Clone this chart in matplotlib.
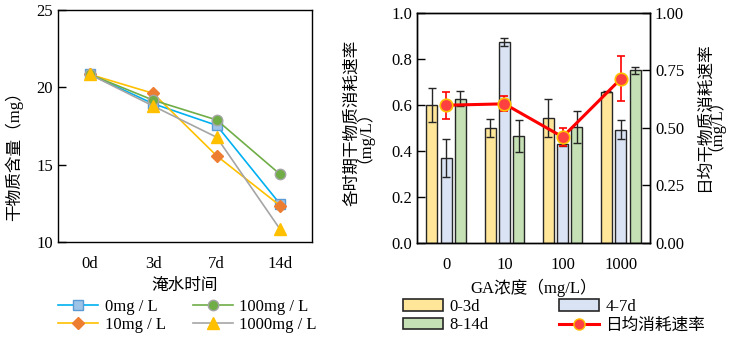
import matplotlib
matplotlib.use("Agg")
from matplotlib import pyplot as plt
from matplotlib.patches import Patch
from matplotlib.lines import Line2D
import numpy as np

plt.rcParams['font.family'] = ['Liberation Serif', 'Noto Sans CJK SC']
plt.rcParams['axes.unicode_minus'] = False

# ---- donnees : panneau gauche (masse seche)
days = ["0d", "3d", "7d", "14d"]
series_names = ["0mg / L", "10mg / L", "100mg / L", "1000mg / L"]
mass_0 = [20.85, 18.95, 17.55, 12.45]
mass_10 = [20.85, 19.62, 15.58, 12.35]
mass_100 = [20.85, 19.18, 17.90, 14.38]
mass_1000 = [20.85, 18.80, 16.78, 10.82]

# ---- donnees : panneau droit (taux de consommation)
ga_conc = ["0", "10", "100", "1000"]
rate_03 = [0.600, 0.501, 0.544, 0.658]
err_03 = [0.072, 0.038, 0.083, 0.003]
rate_47 = [0.369, 0.874, 0.432, 0.493]
err_47 = [0.082, 0.016, 0.012, 0.040]
rate_814 = [0.628, 0.464, 0.503, 0.750]
err_814 = [0.033, 0.070, 0.069, 0.015]
daily_rate = [0.599, 0.605, 0.461, 0.714]
daily_err = [0.058, 0.032, 0.041, 0.097]

fig = plt.figure(figsize=(7.36, 3.40), dpi=100)
fs = 12

### panneau gauche
ax1 = fig.add_axes([0.0788, 0.288, 0.345, 0.682])
x = np.arange(len(days))
styles = [
    (mass_0, '#00B0F0', 's', '#9DC3E6', '#5B9BD5', 7),
    (mass_10, '#FFC000', 'D', '#ED7D31', '#ED7D31', 6),
    (mass_100, '#70AD47', 'o', '#70AD47', '#A5A5A5', 7.5),
    (mass_1000, '#A5A5A5', '^', '#FFC000', '#FFC000', 8),
]
for (vals, lc, mk, mfc, mec, ms), name in zip(styles, series_names):
    ax1.plot(x, vals, color=lc, lw=1.2, marker=mk, markersize=ms,
             markerfacecolor=mfc, markeredgecolor=mec, markeredgewidth=1.0, label=name)
ax1.set_xlim(-0.5, 3.5)
ax1.set_ylim(10, 25)
ax1.set_yticks([10, 15, 20, 25])
ax1.set_xticks(x)
ax1.set_xticklabels(days)
ax1.tick_params(axis='y', direction='in', length=6, labelsize=fs, width=1)
ax1.tick_params(axis='x', length=0, labelsize=fs, pad=10)
for s in ax1.spines.values():
    s.set_linewidth(1.0)
ax1.text(-0.173, 0.388, "干物质含量（mg）", transform=ax1.transAxes, rotation=90,
         ha='center', va='center', fontsize=fs)
ax1.set_xlabel("淹水时间", fontsize=fs, labelpad=4)
ax1.legend(loc='upper center', bbox_to_anchor=(0.51, -0.18), ncol=2, frameon=False,
           fontsize=fs, handlelength=2.4, labelspacing=0.15, columnspacing=1.6,
           handletextpad=0.4)

### panneau droit
ax2 = fig.add_axes([0.5666, 0.2853, 0.3166, 0.6765])
xg = np.arange(len(ga_conc))
w = 0.19
off = 0.245
ekw = dict(ecolor='#262626', elinewidth=1.0, capsize=3, capthick=1.0)
ax2.bar(xg - off, rate_03, w, yerr=err_03, color='#FFE699', edgecolor='#262626', lw=1.0, error_kw=ekw)
ax2.bar(xg, rate_47, w, yerr=err_47, color='#DAE3F3', edgecolor='#262626', lw=1.0, error_kw=ekw)
ax2.bar(xg + off, rate_814, w, yerr=err_814, color='#C5E0B4', edgecolor='#262626', lw=1.0, error_kw=ekw)
ax2.set_xlim(-0.5, 3.5)
ax2.set_ylim(0, 1.0)
ax2.set_yticks(np.arange(0, 1.01, 0.2))
ax2.set_yticklabels(["%.1f" % v for v in np.arange(0, 1.01, 0.2)])
ax2.set_xticks(xg)
ax2.set_xticklabels(ga_conc)
ax2.tick_params(axis='y', direction='in', length=6, labelsize=fs, width=1)
ax2.tick_params(axis='x', length=0, labelsize=fs, pad=10)
ax2.set_xlabel("GA浓度（mg/L）", fontsize=fs, labelpad=4)
ax2.text(-0.279, 0.522, "各时期干物质消耗速率", transform=ax2.transAxes, rotation=90,
         ha='center', va='center', fontsize=fs)
ax2.text(-0.266, 0.50, "（mg/L）", transform=ax2.transAxes, rotation=90,
         ha='center', va='center', fontsize=fs)

ax3 = ax2.twinx()
ax3.errorbar(xg, daily_rate, yerr=daily_err, color='#FF0000', lw=2.2, marker='o',
             markersize=9, markerfacecolor='#FF4040', markeredgecolor='#FFC000',
             markeredgewidth=1.2, ecolor='#FF0000', elinewidth=1.2, capsize=3, capthick=1.2)
ax3.set_ylim(0, 1.0)
ax3.set_yticks([0, 0.25, 0.5, 0.75, 1.0])
ax3.set_yticklabels(["0.00", "0.25", "0.50", "0.75", "1.00"])
ax3.tick_params(axis='y', direction='in', length=6, labelsize=fs, width=1)
ax3.text(1.236, 0.548, "日均干物质消耗速率", transform=ax3.transAxes, rotation=90,
         ha='center', va='center', fontsize=fs)
ax3.text(1.241, 0.552, "（mg/L）", transform=ax3.transAxes, rotation=90,
         ha='center', va='center', fontsize=fs)
for s in list(ax2.spines.values()) + list(ax3.spines.values()):
    s.set_linewidth(1.0)

handles = [
    Patch(facecolor='#FFE699', edgecolor='#262626', lw=1.2, label="0-3d"),
    Patch(facecolor='#C5E0B4', edgecolor='#262626', lw=1.2, label="8-14d"),
    Patch(facecolor='#DAE3F3', edgecolor='#262626', lw=1.2, label="4-7d"),
    Line2D([0], [0], color='#FF0000', lw=2.2, marker='o', markersize=8,
           markerfacecolor='#FF4040', markeredgecolor='#FFC000', label="日均消耗速率"),
]
fig.legend(handles=handles, loc='upper left', bbox_to_anchor=(0.527, 0.165), ncol=2,
           frameon=False, fontsize=fs, handlelength=2.4, handleheight=0.7,
           labelspacing=0.15, columnspacing=4.2, handletextpad=0.4)

fig.savefig("out.png", dpi=100)
